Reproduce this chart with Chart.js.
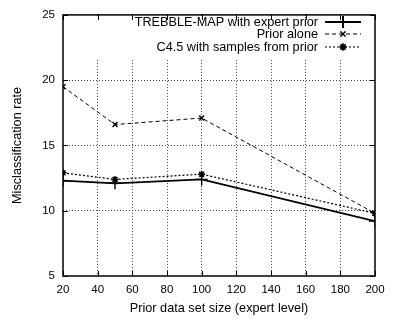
<!DOCTYPE html>
<html><head><meta charset="utf-8">
<script src="https://cdn.jsdelivr.net/npm/chart.js@4/dist/chart.umd.min.js"></script>
<style>html,body{margin:0;padding:0;background:#fff}#wrap{width:393px;height:320px}</style>
</head><body><div id="wrap"><canvas id="c" width="393" height="320"></canvas></div>
<script>
const xValues = [20, 50, 100, 200];
const trebbleMap = [12.3, 12.1, 12.4, 9.2];
const priorAlone = [19.5, 16.6, 17.1, 9.8];
const c45Samples = [12.9, 12.4, 12.8, 9.8];
const seriesNames = ['TREBBLE-MAP with expert prior', 'Prior alone', 'C4.5 with samples from prior'];
const xTicks = [20, 40, 60, 80, 100, 120, 140, 160, 180, 200];
const yTicks = [5, 10, 15, 20, 25];
const xTitle = 'Prior data set size (expert level)';
const yTitle = 'Misclassification rate';

const FONT = '"Liberation Sans", Arial, sans-serif';
const toPts = arr => arr.map((v, i) => ({x: xValues[i], y: v}));

const styles = [
  {borderDash: [], borderWidth: 1.8, pointStyle: 'cross', pointRadius: 6, pointBorderWidth: 1.4},
  {borderDash: [4, 3], borderWidth: 1, pointStyle: 'crossRot', pointRadius: 3.5, pointBorderWidth: 1.4},
  {borderDash: [2, 2], borderWidth: 1.2, pointStyle: 'star', pointRadius: 3.5, pointBorderWidth: 1.5}
];
const seriesData = [trebbleMap, priorAlone, c45Samples];

const datasets = seriesData.map((d, i) => Object.assign({
  label: seriesNames[i],
  data: toPts(d),
  borderColor: '#000',
  backgroundColor: '#000',
  pointBorderColor: '#000',
  pointBackgroundColor: '#000',
  fill: false,
  tension: 0
}, styles[i]));

const frame = {
  id: 'frame',
  beforeDatasetsDraw(chart) {
    const {ctx, chartArea: a} = chart;
    ctx.save();
    ctx.fillStyle = '#fff';
    ctx.fillRect(a.left + 1, a.top + 1, a.right - a.left - 2, 44);
    ctx.restore();
  },
  afterDatasetsDraw(chart) {
    const {ctx, chartArea: a, scales: {x, y}} = chart;
    ctx.save();
    ctx.strokeStyle = '#000';
    ctx.lineWidth = 1;
    ctx.setLineDash([]);
    ctx.beginPath();
    xTicks.forEach(v => {
      const px = Math.round(x.getPixelForValue(v)) + 0.5;
      ctx.moveTo(px, a.bottom); ctx.lineTo(px, a.bottom - 5);
      ctx.moveTo(px, a.top); ctx.lineTo(px, a.top + 5);
    });
    yTicks.forEach(v => {
      const py = Math.round(y.getPixelForValue(v)) + 0.5;
      ctx.moveTo(a.left, py); ctx.lineTo(a.left + 5, py);
      ctx.moveTo(a.right, py); ctx.lineTo(a.right - 5, py);
    });
    ctx.stroke();
    ctx.lineWidth = 1.5;
    ctx.strokeRect(a.left, a.top, a.right - a.left, a.bottom - a.top);
    // legend
    ctx.font = '12.7px ' + FONT;
    ctx.fillStyle = '#000';
    ctx.textAlign = 'right';
    ctx.textBaseline = 'middle';
    const rows = [22, 34, 47];
    chart.data.datasets.forEach((ds, i) => {
      const yy = rows[i];
      ctx.fillText(ds.label, 318, yy);
      ctx.beginPath();
      ctx.lineWidth = ds.borderWidth;
      ctx.setLineDash(ds.borderDash);
      ctx.moveTo(325, yy); ctx.lineTo(361, yy);
      ctx.stroke();
      ctx.setLineDash([]);
      Chart.helpers.drawPoint(ctx, {pointStyle: ds.pointStyle, radius: ds.pointRadius, borderWidth: ds.pointBorderWidth, rotation: 0}, 343, yy);
      ctx.lineWidth = ds.pointBorderWidth;
      ctx.stroke();
    });
    ctx.restore();
  }
};

new Chart(document.getElementById('c'), {
  type: 'line',
  data: {datasets},
  plugins: [frame],
  options: {
    responsive: false,
    animation: false,
    layout: {padding: {top: 10, right: 18, left: 0, bottom: 0}},
    plugins: {legend: {display: false}, tooltip: {enabled: false}},
    scales: {
      x: {
        type: 'linear', min: 20, max: 200,
        afterBuildTicks: s => { s.ticks = xTicks.map(v => ({value: v})); },
        afterFit: s => { s.height = 44; },
        grid: {color: c => (c.tick && (c.tick.value === 20 || c.tick.value === 200)) ? 'rgba(0,0,0,0)' : '#444', drawTicks: false, lineWidth: 1},
        border: {display: false, dash: [1, 2]},
        ticks: {color: '#000', font: {family: FONT, size: 11.5}, padding: 7, maxRotation: 0, autoSkip: false},
        title: {display: true, text: xTitle, color: '#000', font: {family: FONT, size: 12.7}, padding: {top: 2}}
      },
      y: {
        type: 'linear', min: 5, max: 25,
        afterBuildTicks: s => { s.ticks = yTicks.map(v => ({value: v})); },
        afterFit: s => { s.width = 63; },
        grid: {color: c => (c.tick && (c.tick.value === 5 || c.tick.value === 25)) ? 'rgba(0,0,0,0)' : '#444', drawTicks: false, lineWidth: 1},
        border: {display: false, dash: [1, 2]},
        ticks: {color: '#000', font: {family: FONT, size: 11.5}, padding: 8},
        title: {display: true, text: yTitle, color: '#000', font: {family: FONT, size: 12.7}, padding: {top: 10, bottom: 4}}
      }
    }
  }
});
</script></body></html>
